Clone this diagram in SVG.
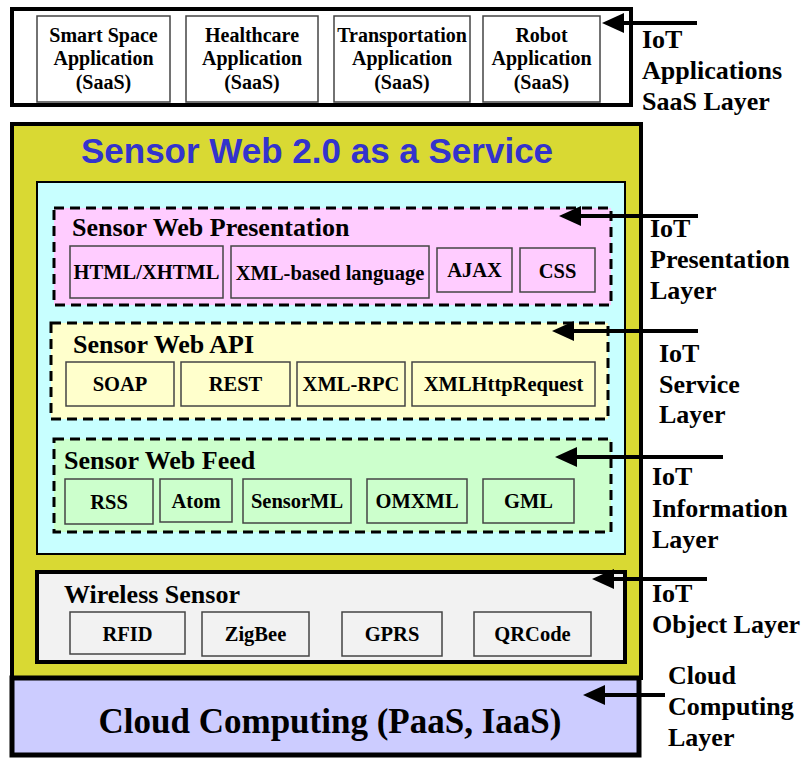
<svg xmlns="http://www.w3.org/2000/svg" width="801" height="758" viewBox="0 0 801 758">
  <style>
    .t { font-family: "Liberation Serif", "Times New Roman", serif; font-weight: bold; fill: #000; }
    .item { font-size: 20.5px; text-anchor: middle; }
    .app { font-size: 20px; text-anchor: middle; }
    .head { font-size: 26px; }
    .lbl { font-size: 26px; }
    .box { stroke: #444; stroke-width: 1.5; }
    .dash { stroke: #000; stroke-width: 3; stroke-dasharray: 10 6; }
    .conn { stroke: #000; stroke-width: 4; fill: none; marker-end: url(#head); }
  </style>
  <defs>
    <marker id="head" markerUnits="userSpaceOnUse" viewBox="0 0 22 20" markerWidth="22" markerHeight="20" refX="7" refY="10" orient="auto">
      <path d="M0,0 L22,10 L0,20 Z" fill="#000"/>
    </marker>
  </defs>

  <rect width="801" height="758" fill="#fff"/>

  <!-- SaaS application layer -->
  <g id="saas-layer">
    <rect x="12" y="9" width="619" height="96" fill="#fff" stroke="#000" stroke-width="4"/>
    <g id="app-smart-space">
      <rect class="box" x="37" y="16" width="133" height="86" fill="#fff"/>
      <text class="t app" x="103.5" y="42">Smart Space</text>
      <text class="t app" x="103.5" y="65">Application</text>
      <text class="t app" x="103.5" y="89">(SaaS)</text>
    </g>
    <g id="app-healthcare">
      <rect class="box" x="186" y="16" width="132" height="86" fill="#fff"/>
      <text class="t app" x="252" y="42">Healthcare</text>
      <text class="t app" x="252" y="65">Application</text>
      <text class="t app" x="252" y="89">(SaaS)</text>
    </g>
    <g id="app-transportation">
      <rect class="box" x="334" y="16" width="136" height="86" fill="#fff"/>
      <text class="t app" x="402" y="42">Transportation</text>
      <text class="t app" x="402" y="65">Application</text>
      <text class="t app" x="402" y="89">(SaaS)</text>
    </g>
    <g id="app-robot">
      <rect class="box" x="483" y="16" width="117" height="86" fill="#fff"/>
      <text class="t app" x="541.5" y="42">Robot</text>
      <text class="t app" x="541.5" y="65">Application</text>
      <text class="t app" x="541.5" y="89">(SaaS)</text>
    </g>
  </g>

  <!-- Sensor Web 2.0 service container -->
  <g id="sensor-web-service">
    <rect x="12" y="124" width="629" height="554" fill="#D9D933" stroke="#000" stroke-width="4"/>
    <text x="317" y="163" text-anchor="middle" font-family="'Liberation Sans', Arial, sans-serif" font-weight="bold" font-size="35" fill="#3333CC">Sensor Web 2.0 as a Service</text>
    <rect x="37" y="182" width="588" height="372" fill="#C8FFFF" stroke="#000" stroke-width="2"/>
  </g>

  <!-- Presentation -->
  <g id="presentation">
    <rect class="dash" x="54" y="208" width="557" height="97" fill="#FFCCFF"/>
    <text class="t head" x="72" y="236">Sensor Web Presentation</text>
    <g id="pres-html">
      <rect class="box" x="70" y="246" width="153" height="52" fill="#FFCCFF"/>
      <text class="t item" x="146.5" y="279">HTML/XHTML</text>
    </g>
    <g id="pres-xml">
      <rect class="box" x="231" y="246" width="198" height="52" fill="#FFCCFF"/>
      <text class="t item" x="330" y="280">XML-based language</text>
    </g>
    <g id="pres-ajax">
      <rect class="box" x="437" y="248" width="75" height="44" fill="#FFCCFF"/>
      <text class="t item" x="474.5" y="277">AJAX</text>
    </g>
    <g id="pres-css">
      <rect class="box" x="520" y="248" width="75" height="44" fill="#FFCCFF"/>
      <text class="t item" x="557.5" y="278">CSS</text>
    </g>
  </g>

  <!-- API -->
  <g id="api">
    <rect class="dash" x="51" y="323" width="557" height="96" fill="#FFFFCC"/>
    <text class="t head" x="73" y="353">Sensor Web API</text>
    <g id="api-soap">
      <rect class="box" x="66" y="362" width="108" height="44" fill="#FFFFCC"/>
      <text class="t item" x="120" y="391">SOAP</text>
    </g>
    <g id="api-rest">
      <rect class="box" x="181" y="362" width="109" height="44" fill="#FFFFCC"/>
      <text class="t item" x="235.5" y="391">REST</text>
    </g>
    <g id="api-xmlrpc">
      <rect class="box" x="297" y="362" width="108" height="44" fill="#FFFFCC"/>
      <text class="t item" x="351" y="391">XML-RPC</text>
    </g>
    <g id="api-xhr">
      <rect class="box" x="412" y="362" width="183" height="44" fill="#FFFFCC"/>
      <text class="t item" x="503.5" y="391">XMLHttpRequest</text>
    </g>
  </g>

  <!-- Feed -->
  <g id="feed">
    <rect class="dash" x="54" y="439" width="557" height="93" fill="#CCFFCC"/>
    <text class="t head" x="64" y="469">Sensor Web Feed</text>
    <g id="feed-rss">
      <rect class="box" x="65" y="479" width="88" height="45" fill="#CCFFCC"/>
      <text class="t item" x="109" y="509">RSS</text>
    </g>
    <g id="feed-atom">
      <rect class="box" x="160" y="479" width="72" height="43" fill="#CCFFCC"/>
      <text class="t item" x="196" y="508">Atom</text>
    </g>
    <g id="feed-sensorml">
      <rect class="box" x="243" y="479" width="108" height="44" fill="#CCFFCC"/>
      <text class="t item" x="297" y="508">SensorML</text>
    </g>
    <g id="feed-omxml">
      <rect class="box" x="367" y="479" width="100" height="44" fill="#CCFFCC"/>
      <text class="t item" x="417" y="508">OMXML</text>
    </g>
    <g id="feed-gml">
      <rect class="box" x="483" y="479" width="91" height="44" fill="#CCFFCC"/>
      <text class="t item" x="528.5" y="508">GML</text>
    </g>
  </g>

  <!-- Wireless sensor -->
  <g id="wireless">
    <rect x="37" y="572" width="588" height="90" fill="#F2F2F2" stroke="#000" stroke-width="4"/>
    <text class="t head" x="64" y="603">Wireless Sensor</text>
    <g id="ws-rfid">
      <rect class="box" x="70" y="612" width="115" height="42" fill="#F2F2F2"/>
      <text class="t item" x="127.5" y="641">RFID</text>
    </g>
    <g id="ws-zigbee">
      <rect class="box" x="202" y="612" width="107" height="44" fill="#F2F2F2"/>
      <text class="t item" x="255.5" y="641">ZigBee</text>
    </g>
    <g id="ws-gprs">
      <rect class="box" x="342" y="612" width="100" height="44" fill="#F2F2F2"/>
      <text class="t item" x="392" y="641">GPRS</text>
    </g>
    <g id="ws-qrcode">
      <rect class="box" x="474" y="612" width="117" height="44" fill="#F2F2F2"/>
      <text class="t item" x="532.5" y="641">QRCode</text>
    </g>
  </g>

  <!-- Cloud computing -->
  <g id="cloud">
    <rect x="12" y="678" width="627" height="77" fill="#CCCCFF" stroke="#000" stroke-width="5"/>
    <text class="t" x="330" y="733" text-anchor="middle" font-size="35">Cloud Computing (PaaS, IaaS)</text>
  </g>

  <!-- Layer pointers -->
  <g id="connectors">
    <line class="conn" x1="697" y1="23" x2="617" y2="23"/>
    <line class="conn" x1="698" y1="216" x2="574" y2="216"/>
    <line class="conn" x1="698" y1="331" x2="567" y2="331"/>
    <line class="conn" x1="723" y1="457" x2="570" y2="457"/>
    <line class="conn" x1="707" y1="579" x2="607" y2="579"/>
    <line class="conn" x1="665" y1="695" x2="598" y2="695"/>
  </g>

  <!-- Layer names -->
  <g id="layer-labels">
    <text class="t lbl"><tspan x="642" y="48">IoT</tspan><tspan x="642" y="79">Applications</tspan><tspan x="642" y="110">SaaS Layer</tspan></text>
    <text class="t lbl"><tspan x="650" y="237">IoT</tspan><tspan x="650" y="268">Presentation</tspan><tspan x="650" y="299">Layer</tspan></text>
    <text class="t lbl"><tspan x="659" y="362">IoT</tspan><tspan x="659" y="393">Service</tspan><tspan x="659" y="423">Layer</tspan></text>
    <text class="t lbl"><tspan x="652" y="485">IoT</tspan><tspan x="652" y="517">Information</tspan><tspan x="652" y="548">Layer</tspan></text>
    <text class="t lbl"><tspan x="652" y="602">IoT</tspan><tspan x="652" y="633">Object Layer</tspan></text>
    <text class="t lbl"><tspan x="668" y="684">Cloud</tspan><tspan x="668" y="715">Computing</tspan><tspan x="668" y="746">Layer</tspan></text>
  </g>
</svg>
